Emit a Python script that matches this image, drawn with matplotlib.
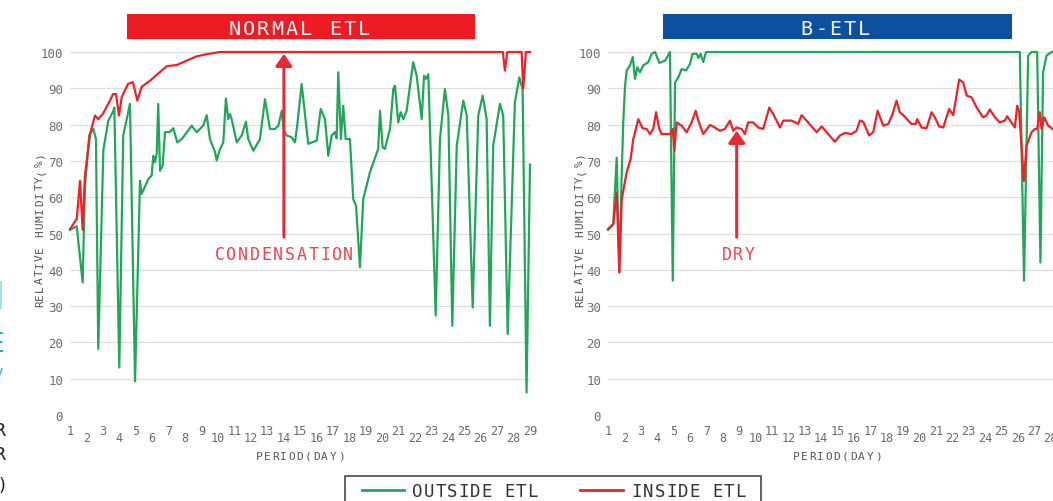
import matplotlib
matplotlib.use("Agg")
import matplotlib.pyplot as plt
from matplotlib.lines import Line2D
from matplotlib.patches import Rectangle

# ---------------- data ----------------
days = list(range(1, 30))
y_ticks = list(range(0, 101, 10))

# NORMAL ETL (left panel)
normal_out_t = [1.00, 1.41, 1.77, 1.91, 2.17, 2.42, 2.58, 2.72, 3.03, 3.33,
                3.64, 3.70, 4.00, 4.24, 4.65, 4.96, 5.26, 5.36, 5.77, 5.97,
                6.07, 6.17, 6.28, 6.37, 6.48, 6.64, 6.78, 7.09, 7.29, 7.53,
                7.80, 8.41, 8.71, 9.11, 9.32, 9.52, 9.83, 9.93, 10.13, 10.33,
                10.49, 10.63, 10.74, 10.84, 11.15, 11.45, 11.71, 11.85, 12.16, 12.56,
                12.87, 13.17, 13.48, 13.68, 13.89, 14.02, 14.19, 14.49, 14.69, 14.83,
                15.10, 15.50, 16.02, 16.26, 16.52, 16.72, 16.93, 17.13, 17.23, 17.33,
                17.49, 17.63, 17.78, 18.04, 18.24, 18.41, 18.65, 18.85, 19.26, 19.76,
                19.87, 20.03, 20.17, 20.48, 20.68, 20.78, 20.98, 21.13, 21.29, 21.49,
                21.89, 22.10, 22.41, 22.55, 22.67, 22.81, 23.26, 23.52, 23.82, 24.03,
                24.27, 24.54, 24.94, 25.15, 25.51, 25.85, 26.12, 26.36, 26.56, 26.76,
                27.17, 27.37, 27.64, 28.08, 28.35, 28.55, 28.79, 29.00]
normal_out_rh = [51, 52, 36.5, 63, 77, 78.8, 76, 18.2, 73, 81,
                 83.8, 84.7, 13.1, 77, 85.7, 9.3, 64.5, 60.9, 65, 66,
                 71.4, 69.6, 71.9, 85.7, 67.3, 68.7, 77.9, 78, 79, 75.1,
                 76, 79.7, 77.9, 79.7, 82.6, 76, 72.4, 70.1, 73.3, 75.1,
                 87.2, 81.5, 82.9, 81.5, 75.1, 77, 80.8, 76, 72.8, 76,
                 87, 78.8, 78.8, 79.7, 83.8, 78.3, 77, 76.5, 75.1, 79.7,
                 91.2, 74.7, 75.6, 84.3, 81.5, 71.4, 77, 77.9, 76.2, 94.4,
                 76, 85.2, 76, 76, 59.5, 57.7, 40.7, 59.5, 66.9, 73.3,
                 83.8, 73.7, 73.3, 78.8, 89.8, 90.7, 80.6, 83.4, 81.5, 83.8,
                 97.2, 93.5, 81.5, 93.5, 92.6, 93.9, 27.4, 76, 89.8, 82.5,
                 24.6, 74.2, 86.6, 82.5, 29.6, 82.5, 88, 81.5, 24.6, 74.2,
                 85.7, 82.5, 22.3, 86.1, 93, 89.8, 6.2, 69]

normal_in_t = [1.00, 1.41, 1.61, 1.77, 1.91, 2.22, 2.52, 2.72, 3.01, 3.43,
               3.62, 3.80, 3.98, 4.15, 4.53, 4.83, 5.10, 5.36, 5.87, 6.48,
               6.89, 7.49, 8.10, 8.71, 9.32, 10.13, 27.35, 27.47, 27.62, 28.49,
               28.59, 28.75, 29.00]
normal_in_rh = [51.2, 54, 64.5, 51, 66, 77.4, 82.5, 81.5, 83, 86.6,
                88.4, 88.4, 82.5, 87.6, 91.2, 91.7, 86.6, 90.4, 92.1, 94.5,
                96.1, 96.4, 97.6, 98.8, 99.4, 100, 100, 94.9, 100, 100,
                90, 100, 100]

# B-ETL (right panel)
betl_out_t = [1.00, 1.32, 1.53, 1.69, 1.84, 1.93, 2.04, 2.14, 2.34, 2.51,
              2.65, 2.79, 2.95, 3.15, 3.46, 3.66, 3.87, 4.13, 4.48, 4.78,
              4.95, 5.09, 5.29, 5.49, 5.76, 6.00, 6.16, 6.41, 6.51, 6.65,
              6.81, 6.98, 26.12, 26.38, 26.63, 26.84, 27.18, 27.38, 27.54, 27.75,
              28.05, 28.50]
betl_out_rh = [51, 52.5, 70.9, 39.3, 66.9, 80.6, 90.7, 94.9, 96.3, 98.6,
               92.6, 95.8, 94.4, 96.3, 97.2, 99.5, 100, 97, 97.6, 100,
               37, 91.6, 93, 95.3, 94.9, 96.7, 99.5, 99.5, 98.3, 99.5,
               97.2, 100, 100, 37, 99, 100, 100, 42, 94.4, 99,
               100, 100]

betl_in_t = [1.00, 1.32, 1.53, 1.69, 1.84, 2.14, 2.38, 2.54, 2.85, 3.11,
             3.36, 3.56, 3.76, 3.93, 4.13, 4.27, 4.78, 4.95, 5.04, 5.19,
             5.49, 5.80, 6.10, 6.35, 6.51, 6.81, 7.22, 7.52, 7.83, 8.13,
             8.44, 8.64, 8.84, 9.15, 9.35, 9.55, 9.86, 10.16, 10.47, 10.84,
             11.08, 11.49, 11.69, 12.20, 12.60, 12.81, 13.21, 13.73, 14.03, 14.43,
             14.84, 15.15, 15.45, 15.86, 16.16, 16.37, 16.57, 16.93, 17.18, 17.45,
             17.79, 18.10, 18.36, 18.60, 18.80, 19.01, 19.51, 19.78, 19.86, 20.13,
             20.43, 20.74, 20.94, 21.20, 21.45, 21.81, 22.06, 22.42, 22.67, 22.88,
             23.18, 23.49, 23.88, 24.09, 24.29, 24.60, 24.90, 25.21, 25.35, 25.61,
             25.82, 25.96, 26.08, 26.37, 26.53, 26.84, 27.04, 27.18, 27.34, 27.45,
             27.61, 27.85, 28.12, 28.50]
betl_in_rh = [51.2, 52.6, 61.3, 39.3, 59.5, 66.9, 70.5, 76, 81.5, 79,
              78.8, 77.4, 78.8, 83.4, 78.8, 77.4, 77.4, 78.8, 72.8, 80.6,
              79.7, 77.9, 80.6, 83.8, 81.1, 77.4, 79.9, 79.2, 78.3, 78.8,
              81.1, 78.3, 79.2, 78.8, 77.4, 80.6, 80.6, 79.2, 78.8, 84.7,
              82.9, 79.2, 81.1, 81.1, 80.2, 82.6, 80.6, 77.9, 79.5, 77.4,
              75.3, 77, 77.7, 77.4, 78.3, 81.1, 80.8, 77, 77.9, 83.8,
              79.7, 80.2, 82.9, 86.6, 83.4, 82.6, 80.2, 80.2, 81.5, 79.2,
              79, 83.4, 82, 79.5, 79.2, 84.3, 82.6, 92.4, 91.6, 88,
              87.5, 84.7, 82, 82.5, 84.2, 82, 80.6, 81.1, 82.3, 80.6,
              79.2, 85.2, 83.8, 64.5, 74.2, 77.9, 78.8, 78.8, 83.4, 78.8,
              82, 79.7, 78.8, 78.5]

# annotation anchors (day, RH)
cond_day, cond_tip = 14.02, 99.5
dry_day, dry_tip = 8.85, 78.3
arrow_base = 49.0

titles = ["NORMAL ETL", "B-ETL"]
legend_labels = ["OUTSIDE ETL", "INSIDE ETL"]

# ---------------- style ----------------
W, H = 1053, 502
GREEN = "#22a65a"
RED = "#ec2229"
ARROW_RED = "#ea2a33"
TEXT_RED = "#ef4450"
BAR_RED = "#ed1c24"
BAR_BLUE = "#0e50a0"
MONO = "DejaVu Sans Mono"

fig = plt.figure(figsize=(W / 100, H / 100), dpi=100)
fig.patch.set_facecolor("white")


def fxy(px, py):
    return px / W, 1 - py / H


def spaced_text(xc, yc, s, adv, rotation=0, **kw):
    """Letter-spaced text; (xc, yc) is the centre (pixels, from top-left) on the baseline."""
    n = len(s)
    for i, ch in enumerate(s):
        if ch == " ":
            continue
        off = (i - (n - 1) / 2) * adv
        if rotation == 90:
            x, y = xc, yc - off
        else:
            x, y = xc + off, yc
        fx, fy = fxy(x, y)
        fig.text(fx, fy, ch, ha="center", va="baseline", rotation=rotation,
                 rotation_mode="anchor", family=MONO, **kw)


ax1 = fig.add_axes([70 / W, (H - 416) / H, 460 / W, 363 / H])
ax2 = fig.add_axes([608 / W, (H - 416) / H, 459 / W, 363 / H])

panels = [(ax1, normal_out_t, normal_out_rh, normal_in_t, normal_in_rh),
          (ax2, betl_out_t, betl_out_rh, betl_in_t, betl_in_rh)]

odd_days = [d for d in days if d % 2 == 1]
even_days = [d for d in days if d % 2 == 0]

for ax, ot, orh, it, irh in panels:
    ax.plot(ot, orh, color=GREEN, lw=1.6, zorder=3, clip_on=False,
            solid_joinstyle="round")
    ax.plot(it, irh, color=RED, lw=1.6, zorder=4, clip_on=False,
            solid_joinstyle="round")
    ax.set_xlim(1, 29)
    ax.set_ylim(0, 100)
    ax.set_yticks(y_ticks)
    ax.set_yticklabels([str(v) for v in y_ticks], family=MONO, fontsize=9,
                       color="#6e6e6e")
    ax.set_xticks(odd_days)
    ax.set_xticklabels([str(d) for d in odd_days], family=MONO, fontsize=8.5,
                       color="#6a6a6a")
    ax.set_xticks(even_days, minor=True)
    ax.set_xticklabels([str(d) for d in even_days], minor=True, family=MONO,
                       fontsize=8.5, color="#6a6a6a")
    ax.tick_params(axis="both", which="both", length=0)
    ax.tick_params(axis="y", pad=5)
    ax.tick_params(axis="x", which="major", pad=6.6)
    ax.tick_params(axis="x", which="minor", pad=11.8)
    ax.grid(axis="y", which="major", color="#dedede", lw=0.9)
    ax.set_axisbelow(True)
    ax.get_ygridlines()[0].set_visible(False)
    for sp in ax.spines.values():
        sp.set_visible(False)
    ax.patch.set_alpha(0)

# arrows
arrow_kw = dict(arrowstyle="-|>,head_length=0.36,head_width=0.25",
                color=ARROW_RED, lw=2.2, shrinkA=0, shrinkB=0,
                mutation_scale=20)
ax1.annotate("", xy=(cond_day, cond_tip), xytext=(cond_day, arrow_base),
             arrowprops=arrow_kw, annotation_clip=False)
ax2.annotate("", xy=(dry_day, dry_tip), xytext=(dry_day, arrow_base),
             arrowprops=arrow_kw, annotation_clip=False)
spaced_text(284, 260, "CONDENSATION", 11.7, fontsize=12, color=TEXT_RED)
spaced_text(738, 260, "DRY", 11.5, fontsize=12, color=TEXT_RED)

# title bars
for (x0, x1, col), title in zip([(127, 475, BAR_RED), (663, 1012, BAR_BLUE)], titles):
    fx0, fy0 = fxy(x0, 39.5)
    fig.add_artist(Rectangle((fx0, fy0), (x1 - x0) / W, 24.5 / H,
                             transform=fig.transFigure, facecolor=col,
                             edgecolor="none", zorder=1))
    spaced_text((x0 + x1) / 2 - 2, 35, title, 14.4, fontsize=14.5,
                color="#f6f6f6", zorder=2)

# axis labels
for xc in (43, 583):
    spaced_text(xc, 230, "RELATIVE HUMIDITY(%)", 7.8, rotation=90,
                fontsize=8, color="#555555")
for xc in (300, 837):
    spaced_text(xc, 460, "PERIOD(DAY)", 8.2, fontsize=8, color="#555555")

# legend box
lx0, fy_top = fxy(345, 477)
fig.add_artist(Rectangle((lx0, fxy(0, 520)[1]), (761 - 345) / W, 43 / H,
                         transform=fig.transFigure, facecolor="none",
                         edgecolor="#4a4a4a", lw=1.2, clip_on=False))
for (sx0, sx1, col, tc), lab in zip([(362, 404, GREEN, 475), (580, 623, RED, 688.5)],
                                     legend_labels):
    a = fxy(sx0, 491)
    b = fxy(sx1, 491)
    fig.add_artist(Line2D([a[0], b[0]], [a[1], b[1]], color=col, lw=2,
                          transform=fig.transFigure))
    spaced_text(tc, 497, lab, 11.5, fontsize=12.5, color="#333333")

# fragments of neighbouring content at the left edge
for yb, ch in [(436, "R"), (460, "R"), (491, ")")]:
    fx, fy = fxy(6, yb)
    fig.text(fx, fy, ch, ha="right", va="baseline", fontsize=13,
             color="#222222", family="DejaVu Sans")
fx, fy = fxy(0, 310)
fig.add_artist(Rectangle((fx, fy), 2 / W, 28 / H, transform=fig.transFigure,
                         facecolor="#a8dcf3", edgecolor="none"))
fx, fy = fxy(4, 352)
fig.text(fx, fy, "E", ha="right", va="baseline", fontsize=19,
         color="#2aaae2", family="DejaVu Sans")
fx, fy = fxy(3, 376)
fig.text(fx, fy, "v", ha="right", va="baseline", fontsize=10,
         color="#2aaae2", family="DejaVu Sans")

fig.savefig("out.png", dpi=100)
